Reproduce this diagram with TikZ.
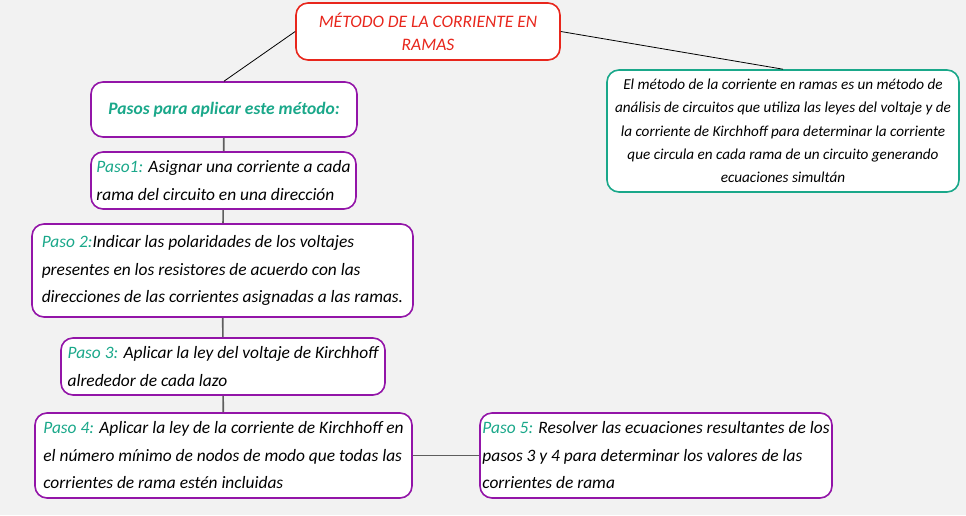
\documentclass[tikz,border=0pt]{standalone}
\usepackage{fontspec}
\setmainfont{Carlito}
\usetikzlibrary{positioning}
\definecolor{PageGray}{HTML}{F2F2F2}
\definecolor{TitleRed}{HTML}{E8261C}
\definecolor{StepPurple}{HTML}{9315A8}
\definecolor{KeyGreen}{HTML}{1AA88A}
\definecolor{LinkGray}{HTML}{5E5E5E}
\tikzset{
  box/.style={draw, fill=white, rounded corners=12pt, line width=1.6pt,
    inner xsep=2pt, inner ysep=0pt, font=\itshape},
  titlebox/.style={box, draw=TitleRed, text=TitleRed, align=center,
    font=\itshape\fontsize{17.5}{23}\selectfont},
  stepbox/.style={box, draw=StepPurple, align=left,
    font=\itshape\fontsize{17.4}{27.5}\selectfont},
  descbox/.style={box, draw=KeyGreen, align=center,
    font=\itshape\fontsize{15.2}{23.3}\selectfont},
  link/.style={draw=LinkGray, line width=1.6pt},
  thinlink/.style={draw=black, line width=0.8pt}
}
\newcommand{\steptag}[1]{\textcolor{KeyGreen}{#1}}
\begin{document}
\begin{tikzpicture}[x=1pt,y=-1pt]
  \fill[PageGray] (0,0) rectangle (966,515);
  \useasboundingbox (0,0) rectangle (966,515);

  \node[titlebox, minimum width=264pt, minimum height=57pt] (title) at (428,31.5)
    {MÉTODO DE LA CORRIENTE EN\\RAMAS};
  \node[stepbox, minimum width=266pt, minimum height=55pt, align=center,
    text=KeyGreen, font=\itshape\bfseries\fontsize{17.5}{20}\selectfont] (pasos) at (224,109.5)
    {Pasos para aplicar este método:};
  \node[stepbox, minimum width=265pt, minimum height=57pt] (paso1) at (223.5,180.5)
    {\steptag{Paso1:} Asignar una corriente a cada\\rama del circuito en una dirección};
  \node[stepbox, minimum width=381pt, minimum height=93pt] (paso2) at (222.5,270.5)
    {\steptag{Paso 2:}Indicar las polaridades de los voltajes\\presentes en los resistores de acuerdo con las\\direcciones de las corrientes asignadas a las ramas.};
  \node[stepbox, minimum width=324pt, minimum height=57pt] (paso3) at (223,366.5)
    {\steptag{Paso 3:} Aplicar la ley del voltaje de Kirchhoff\\alrededor de cada lazo};
  \node[stepbox, minimum width=377pt, minimum height=85pt] (paso4) at (223.5,455.5)
    {\steptag{Paso 4:} Aplicar la ley de la corriente de Kirchhoff en\\el número mínimo de nodos de modo que todas las\\corrientes de rama estén incluidas};
  \node[stepbox, minimum width=352pt, minimum height=85pt] (paso5) at (656,455.5)
    {\steptag{Paso 5:} Resolver las ecuaciones resultantes de los\\pasos 3 y 4 para determinar los valores de las\\corrientes de rama};
  \node[descbox, minimum width=352pt, minimum height=122pt] (desc) at (783,131)
    {El método de la corriente en ramas es un método de\\análisis de circuitos que utiliza las leyes del voltaje y de\\la corriente de Kirchhoff para determinar la corriente\\que circula en cada rama de un circuito generando\\ecuaciones simultán};

  % title to the two branches
  \draw[thinlink] (pasos.north) -- (title.west);
  \draw[thinlink] (title.east) -- (desc.north);

  % the steps
  \draw[link] (pasos) -- (paso1);
  \draw[link] (paso1) -- (paso2);
  \draw[link] (paso2) -- (paso3);
  \draw[link] (paso3) -- (paso4);
  \draw[link] (paso4) -- (paso5);
\end{tikzpicture}
\end{document}
